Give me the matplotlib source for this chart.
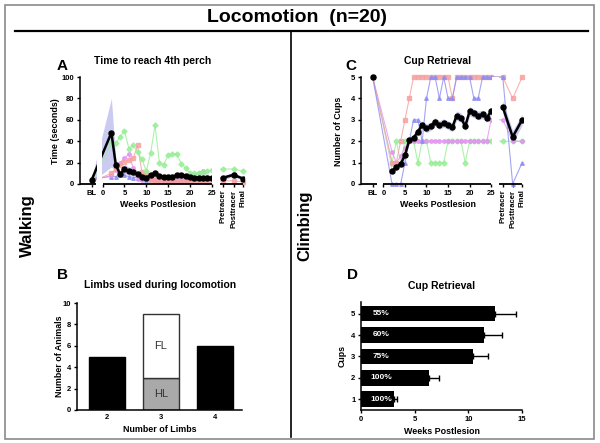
import numpy as np
import matplotlib
matplotlib.use("Agg")
import matplotlib.pyplot as plt
from matplotlib.patches import Rectangle
from matplotlib.lines import Line2D

plt.rcParams['font.family'] = ['Liberation Sans', 'DejaVu Sans']

# ---------------- data ----------------
weeks = list(range(2, 26))
post_labels = ['Pretracer', 'Posttracer', 'Final']

# Panel A: time to reach 4th perch (seconds)
A_bl_mean, A_bl_sem = 4, 2
A_mean = [48, 18, 9, 14, 12, 11, 9.5, 7, 6, 8, 10, 7.5, 7, 7, 7, 8, 8, 7.5, 7, 6, 6, 6, 6, 5.5]
A_sem = [32, 6, 3, 4, 4, 3.5, 3, 2.5, 2, 2.5, 3, 2, 2, 2, 2, 2, 2, 2, 1.5, 1.5, 1.5, 1.5, 1.5, 1.5]
A_post_mean = [6, 8.5, 5]
A_post_sem = [1.5, 2, 1.5]
A_green = [3, 38, 38, 44, 50, 33, 36, 30, 23, 12, 29, 55, 20, 18, 27, 28, 28, 19, 15, 10, 10, 10, 11, 12, 13, 14, 14, 12]
A_salmon = [2, 10, 14, 18, 21, 22, 24, 36, 11, 10, 4, 4, 3, 3, 3, 3, 3, 3, 3, 3, 3, 3, 3, 2, 3, 3, 3, 2]
A_violet = [3, 8, 13, 20, 24, 28, 15, 5, 4, 10, 5, 4, 4, 4, 4, 4, 4, 5, 5, 6, 8, 10, 12, 7, 5, 5, 9, 5]
A_blue = [5, 7, 7, 8, 8, 7, 6, 6, 5, 4, 5, 5, 5, 4, 4, 4, 4, 4, 4, 5, 5, 5, 5, 5, 5, 6, 10, 5]

# Panel C: cup retrieval (number of cups)
C_bl_mean, C_bl_sem = 5, 0
C_mean = [0.6, 0.8, 0.93, 1.35, 2.05, 2.15, 2.45, 2.75, 2.6, 2.7, 2.9, 2.75, 2.85, 2.75, 2.65, 3.2, 3.1, 2.7, 3.4, 3.3, 3.2, 3.25, 3.1, 3.4]
C_sem = [0.1, 0.1, 0.12, 0.15, 0.15, 0.18, 0.2, 0.2, 0.2, 0.2, 0.2, 0.2, 0.2, 0.2, 0.2, 0.22, 0.22, 0.22, 0.22, 0.2, 0.2, 0.2, 0.2, 0.2]
C_post_mean = [3.6, 2.2, 3.0]
C_post_sem = [0.3, 0.3, 0.25]
C_salmon = [5, 1, 1, 2, 3, 4, 5, 5, 5, 5, 5, 5, 5, 5, 5, 4, 5, 5, 5, 5, 5, 5, 5, 5, 5, 5, 4, 5]
C_blue = [5, 0, 0, 0, 1, 2, 3, 3, 2, 4, 5, 5, 4, 5, 4, 4, 5, 5, 5, 5, 4, 4, 5, 5, 5, 5, 0, 1]
C_green = [5, 1, 2, 1, 2, 2, 2, 1, 2, 2, 1, 1, 1, 1, 2, 2, 2, 2, 1, 2, 2, 2, 2, 2, 2, 2, 2, 2]
C_violet = [5, 1.5, 1, 1.3, 1.7, 2, 2, 2, 2, 2, 2, 2, 2, 2, 2, 2, 2, 2, 2, 2, 2, 2, 2, 2, 3, 3, 2, 2]

# Panel B: limbs used during locomotion
B_limbs = ['2', '3', '4']
B_full = [5, 0, 6]
B_HL = [0, 3, 0]
B_FL = [0, 6, 0]

# Panel D: weeks to reach cup level
D_cups = [1, 2, 3, 4, 5]
D_weeks = [3.08, 6.3, 10.4, 11.5, 12.5]
D_err = [0.25, 1.0, 1.4, 1.6, 1.95]
D_pct = ['100%', '100%', '75%', '60%', '55%']

# ---------------- layout helpers ----------------
W, H = 600, 443
fig = plt.figure(figsize=(6, 4.43), dpi=100)


def P(x, y):
    return x / W, 1 - y / H


def ftext(x, y, s, **kw):
    fx, fy = P(x, y)
    fig.text(fx, fy, s, ha=kw.pop('ha', 'center'), va=kw.pop('va', 'center'), **kw)


def axes_px(x0, y0, x1, y1):
    return fig.add_axes([x0 / W, 1 - y1 / H, (x1 - x0) / W, (y1 - y0) / H])


# frame
fig.patches.append(Rectangle(P(5, 439), 589 / W, 434 / H, transform=fig.transFigure,
                             fill=False, ec='#8a8a8a', lw=1.2))
fig.lines.append(Line2D([15 / W, 588 / W], [P(0, 31)[1]] * 2, transform=fig.transFigure,
                        color='k', lw=1.6))
fig.lines.append(Line2D([291 / W] * 2, [P(0, 31)[1], P(0, 437)[1]], transform=fig.transFigure,
                        color='k', lw=1.2))

ftext(297, 17, 'Locomotion  (n=20)', fontsize=14, fontweight='bold')
ftext(27, 226, 'Walking', fontsize=12, fontweight='bold', rotation=90)
ftext(305, 226, 'Climbing', fontsize=12, fontweight='bold', rotation=90)

col_g = '#97ee97'
col_s = '#f6a0a0'
col_v = '#e394f2'
col_b = '#8d8df2'
col_band = '#cbcbf1'

BLX = -2.5
PX = [27.7, 30.0, 32.2]
XLIM = (-5.2, 32.4)


def style_axis(ax, ticksize=5.5):
    for s in ['top', 'right']:
        ax.spines[s].set_visible(False)
    ax.spines['left'].set_linewidth(1.1)
    ax.spines['bottom'].set_linewidth(1.1)
    ax.tick_params(direction='out', length=2.5, width=1.0, labelsize=ticksize, pad=1.5)
    for lab in ax.get_xticklabels() + ax.get_yticklabels():
        lab.set_fontweight('bold')


def time_panel(ax, bl_mean, bl_sem, mean, sem, post_mean, post_sem, traces, ylim, yticks,
               connect_bl, gap1):
    xs = [BLX] + weeks + PX
    # band
    bx = [BLX] + weeks
    bm = np.array([bl_mean] + mean, float)
    bs = np.array([bl_sem] + sem, float)
    ax.fill_between(bx, bm - bs, bm + bs, color=col_band, lw=0, zorder=1)
    pm = np.array(post_mean, float)
    ps = np.array(post_sem, float)
    ax.fill_between(PX, pm - ps, pm + ps, color=col_band, lw=0, zorder=1)
    # individual traces
    for vals, c, m in traces:
        ax.plot(xs, vals, color=c, lw=0.8, marker=m, ms=2.6, mec=c, mfc=c, alpha=0.8,
                zorder=2, clip_on=False)
    # mean
    if connect_bl:
        ax.plot([BLX] + weeks, [bl_mean] + mean, color='k', lw=1.8, marker='o', ms=3.6, zorder=3)
    else:
        ax.plot(weeks, mean, color='k', lw=1.8, marker='o', ms=3.6, zorder=3)
        ax.plot([BLX], [bl_mean], color='k', marker='o', ms=3.6, zorder=3, clip_on=False)
    ax.plot(PX, post_mean, color='k', lw=1.8, marker='o', ms=3.6, zorder=3)
    # gaps in the broken axis
    if gap1:
        ax.axvspan(-1.4, -0.1, color='white', lw=0, zorder=4)
    ax.axvspan(25.15, 26.9, color='white', lw=0, zorder=4)
    ax.set_xlim(*XLIM)
    ax.set_ylim(*ylim)
    ax.set_yticks(yticks)
    ax.spines['bottom'].set_visible(False)
    tr = ax.get_xaxis_transform()
    for a, b in [(XLIM[0], -1.5), (0, 25), (26.9, 32.2)]:
        ax.plot([a, b], [0, 0], color='k', lw=1.3, transform=tr, clip_on=False, zorder=6,
                solid_capstyle='butt')
    ticks = [BLX, 0, 5, 10, 15, 20, 25] + PX
    ax.set_xticks(ticks)
    ax.set_xticklabels(['BL', '0', '5', '10', '15', '20', '25'] + post_labels)
    style_axis(ax)
    for lab in ax.get_xticklabels()[7:]:
        lab.set_rotation(90)
        lab.set_va('top')
        lab.set_ha('center')


# ---------------- Panel A ----------------
axA = axes_px(80, 77, 244, 184)
time_panel(axA, A_bl_mean, A_bl_sem, A_mean, A_sem, A_post_mean, A_post_sem,
           [(A_blue, col_b, '^'), (A_violet, col_v, 'o'), (A_salmon, col_s, 's'), (A_green, col_g, 'D')],
           (0, 100), [0, 20, 40, 60, 80, 100], connect_bl=True, gap1=True)
ftext(62, 66, 'A', fontsize=11, fontweight='bold')
ftext(153, 61, 'Time to reach 4th perch', fontsize=7.5, fontweight='bold')
ftext(56, 131, 'Time (seconds)', fontsize=6.4, fontweight='bold', rotation=90)
ftext(158, 204, 'Weeks Postlesion', fontsize=6.4, fontweight='bold')

# ---------------- Panel C ----------------
axC = axes_px(361, 77, 523, 184)
time_panel(axC, C_bl_mean, C_bl_sem, C_mean, C_sem, C_post_mean, C_post_sem,
           [(C_green, col_g, 'D'), (C_violet, col_v, 'o'), (C_salmon, col_s, 's'), (C_blue, col_b, '^')],
           (0, 5), [0, 1, 2, 3, 4, 5], connect_bl=False, gap1=False)
ftext(351, 66, 'C', fontsize=11, fontweight='bold')
ftext(438, 61, 'Cup Retrieval', fontsize=7.5, fontweight='bold')
ftext(339, 131, 'Number of Cups', fontsize=6.4, fontweight='bold', rotation=90)
ftext(438, 204, 'Weeks Postlesion', fontsize=6.4, fontweight='bold')

# ---------------- Panel B ----------------
axB = axes_px(77, 303, 242, 410)
xb = np.arange(len(B_limbs))
axB.bar(xb, B_full, width=0.67, color='k', edgecolor='k', lw=1, zorder=2)
axB.bar(xb, B_HL, width=0.67, color='#a9a9a9', edgecolor='#333333', lw=1, zorder=2)
axB.bar(xb, B_FL, width=0.67, bottom=B_HL, color='white', edgecolor='#333333', lw=1, zorder=2)
axB.text(xb[1], B_HL[1] + B_FL[1] / 2, 'FL', ha='center', va='center', fontsize=8, color='#333333')
axB.text(xb[1], B_HL[1] / 2, 'HL', ha='center', va='center', fontsize=8, color='#333333')
axB.set_xlim(-0.565, 2.51)
axB.set_ylim(0, 10)
axB.set_yticks([0, 2, 4, 6, 8, 10])
axB.set_xticks(xb)
axB.set_xticklabels(B_limbs)
style_axis(axB)
axB.tick_params(axis='x', length=0, pad=3)
ftext(62, 275, 'B', fontsize=11, fontweight='bold')
ftext(160, 285, 'Limbs used during locomotion', fontsize=7.5, fontweight='bold')
ftext(60, 356, 'Number of Animals', fontsize=6.4, fontweight='bold', rotation=90)
ftext(160, 430, 'Number of Limbs', fontsize=6.4, fontweight='bold')

# ---------------- Panel D ----------------
axD = axes_px(361, 302, 522, 410)
axD.barh(D_cups, D_weeks, height=0.73, color='k', zorder=2)
axD.errorbar(D_weeks, D_cups, xerr=[np.zeros(len(D_err)), D_err], fmt='none', ecolor='k',
             elinewidth=1, capsize=2.5, capthick=1, zorder=1)
for c, p in zip(D_cups, D_pct):
    axD.text(1.85, c, p, ha='center', va='center', color='white', fontsize=6, fontweight='bold')
axD.set_xlim(0, 15)
axD.set_ylim(0.5, 5.54)
axD.set_xticks([0, 5, 10, 15])
axD.set_yticks(D_cups)
style_axis(axD)
ftext(352, 275, 'D', fontsize=11, fontweight='bold')
ftext(442, 286, 'Cup Retrieval', fontsize=7.5, fontweight='bold')
ftext(342, 356, 'Cups', fontsize=6.4, fontweight='bold', rotation=90)
ftext(442, 431, 'Weeks Postlesion', fontsize=6.4, fontweight='bold')

fig.savefig('out.png', dpi=100)
